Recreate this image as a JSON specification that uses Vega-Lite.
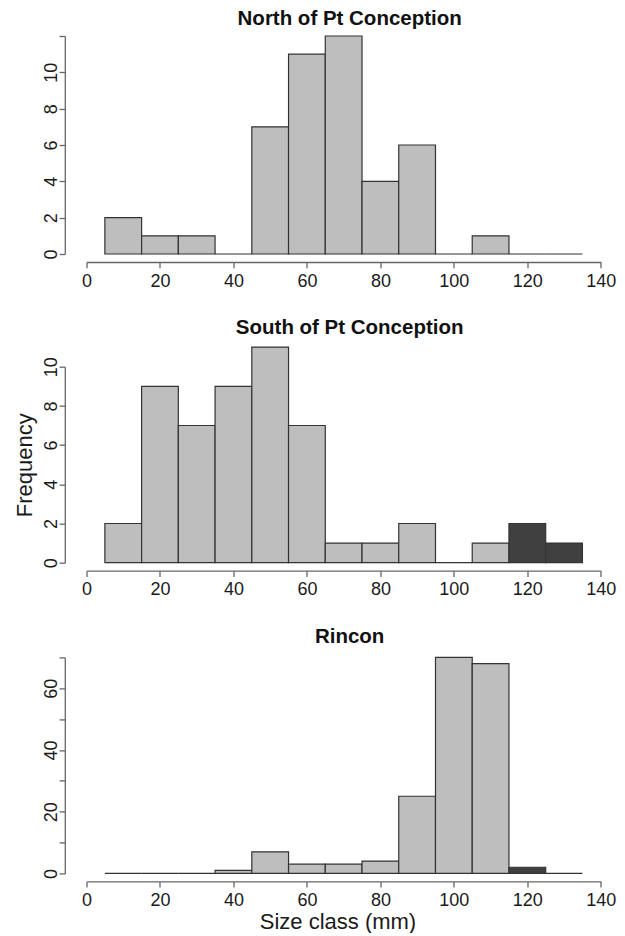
{
  "$schema": "https://vega.github.io/schema/vega-lite/v6.json",
  "background": "white",
  "padding": {"left": 12.5, "top": 9, "right": 0, "bottom": 0},
  "spacing": 26.7,
  "datasets": {
    "north": [
      {"lo": 5, "hi": 15, "n": 2, "shade": "light"},
      {"lo": 15, "hi": 25, "n": 1, "shade": "light"},
      {"lo": 25, "hi": 35, "n": 1, "shade": "light"},
      {"lo": 35, "hi": 45, "n": 0, "shade": "light"},
      {"lo": 45, "hi": 55, "n": 7, "shade": "light"},
      {"lo": 55, "hi": 65, "n": 11, "shade": "light"},
      {"lo": 65, "hi": 75, "n": 12, "shade": "light"},
      {"lo": 75, "hi": 85, "n": 4, "shade": "light"},
      {"lo": 85, "hi": 95, "n": 6, "shade": "light"},
      {"lo": 95, "hi": 105, "n": 0, "shade": "light"},
      {"lo": 105, "hi": 115, "n": 1, "shade": "light"},
      {"lo": 115, "hi": 125, "n": 0, "shade": "light"},
      {"lo": 125, "hi": 135, "n": 0, "shade": "light"}
    ],
    "south": [
      {"lo": 5, "hi": 15, "n": 2, "shade": "light"},
      {"lo": 15, "hi": 25, "n": 9, "shade": "light"},
      {"lo": 25, "hi": 35, "n": 7, "shade": "light"},
      {"lo": 35, "hi": 45, "n": 9, "shade": "light"},
      {"lo": 45, "hi": 55, "n": 11, "shade": "light"},
      {"lo": 55, "hi": 65, "n": 7, "shade": "light"},
      {"lo": 65, "hi": 75, "n": 1, "shade": "light"},
      {"lo": 75, "hi": 85, "n": 1, "shade": "light"},
      {"lo": 85, "hi": 95, "n": 2, "shade": "light"},
      {"lo": 95, "hi": 105, "n": 0, "shade": "light"},
      {"lo": 105, "hi": 115, "n": 1, "shade": "light"},
      {"lo": 115, "hi": 125, "n": 2, "shade": "dark"},
      {"lo": 125, "hi": 135, "n": 1, "shade": "dark"}
    ],
    "rincon": [
      {"lo": 5, "hi": 15, "n": 0, "shade": "light"},
      {"lo": 15, "hi": 25, "n": 0, "shade": "light"},
      {"lo": 25, "hi": 35, "n": 0, "shade": "light"},
      {"lo": 35, "hi": 45, "n": 1, "shade": "light"},
      {"lo": 45, "hi": 55, "n": 7, "shade": "light"},
      {"lo": 55, "hi": 65, "n": 3, "shade": "light"},
      {"lo": 65, "hi": 75, "n": 3, "shade": "light"},
      {"lo": 75, "hi": 85, "n": 4, "shade": "light"},
      {"lo": 85, "hi": 95, "n": 25, "shade": "light"},
      {"lo": 95, "hi": 105, "n": 70, "shade": "light"},
      {"lo": 105, "hi": 115, "n": 68, "shade": "light"},
      {"lo": 115, "hi": 125, "n": 2, "shade": "dark"},
      {"lo": 125, "hi": 135, "n": 0, "shade": "light"}
    ]
  },
  "config": {
    "view": {"stroke": null},
    "title": {"font": "Liberation Sans", "fontSize": 20.5, "fontWeight": "bold", "color": "#111111", "anchor": "middle", "frame": "group", "dx": 6},
    "axis": {
      "grid": false,
      "labelFont": "Liberation Sans",
      "titleFont": "Liberation Sans",
      "labelFontSize": 18,
      "titleFontSize": 22,
      "titleFontWeight": "normal",
      "labelColor": "#1a1a1a",
      "titleColor": "#1a1a1a",
      "domainColor": "#666666",
      "tickColor": "#666666",
      "domainWidth": 1.3,
      "tickWidth": 1.3,
      "tickSize": 5.7,
      "labelFlush": false,
      "labelOverlap": false
    },
    "axisX": {"offset": 8, "labelPadding": 4.5},
    "axisY": {"offset": 21.7, "labelAngle": -90, "labelAlign": "center", "labelBaseline": "alphabetic", "labelPadding": 3}
  },
  "vconcat": [
    {
      "width": 514.3,
      "height": 218,
      "title": {"text": "North of Pt Conception", "offset": 5.7},
      "data": {"name": "north"},
      "mark": {"type": "rect", "stroke": "#333333", "strokeWidth": 1.2},
      "encoding": {
        "x": {"field": "lo", "type": "quantitative", "scale": {"domain": [0, 140], "nice": false, "zero": false}, "axis": {"title": null, "values": [0, 20, 40, 60, 80, 100, 120, 140]}},
        "x2": {"field": "hi"},
        "y": {"field": "n", "type": "quantitative", "scale": {"domain": [0, 12], "nice": false}, "axis": {"title": null, "values": [0, 2, 4, 6, 8, 10, 12], "labelExpr": "datum.value == 12 ? '' : datum.label"}},
        "y2": {"datum": 0},
        "fill": {"field": "shade", "type": "nominal", "scale": {"domain": ["light", "dark"], "range": ["#bebebe", "#404040"]}, "legend": null}
      }
    },
    {
      "width": 514.3,
      "height": 196,
      "title": {"text": "South of Pt Conception", "offset": 8},
      "data": {"name": "south"},
      "mark": {"type": "rect", "stroke": "#333333", "strokeWidth": 1.2},
      "encoding": {
        "x": {"field": "lo", "type": "quantitative", "scale": {"domain": [0, 140], "nice": false, "zero": false}, "axis": {"title": null, "values": [0, 20, 40, 60, 80, 100, 120, 140]}},
        "x2": {"field": "hi"},
        "y": {"field": "n", "type": "quantitative", "scale": {"domain": [0, 10], "nice": false}, "axis": {"title": "Frequency", "titlePadding": 5.7, "values": [0, 2, 4, 6, 8, 10]}},
        "y2": {"datum": 0},
        "fill": {"field": "shade", "type": "nominal", "scale": {"domain": ["light", "dark"], "range": ["#bebebe", "#404040"]}, "legend": null}
      }
    },
    {
      "width": 514.3,
      "height": 216,
      "title": {"text": "Rincon", "offset": 9.7},
      "data": {"name": "rincon"},
      "mark": {"type": "rect", "stroke": "#333333", "strokeWidth": 1.2},
      "encoding": {
        "x": {"field": "lo", "type": "quantitative", "scale": {"domain": [0, 140], "nice": false, "zero": false}, "axis": {"title": "Size class (mm)", "titlePadding": 2, "titleX": 251, "values": [0, 20, 40, 60, 80, 100, 120, 140]}},
        "x2": {"field": "hi"},
        "y": {"field": "n", "type": "quantitative", "scale": {"domain": [0, 70], "nice": false}, "axis": {"title": null, "values": [0, 10, 20, 30, 40, 50, 60, 70], "labelExpr": "datum.value % 20 == 0 && datum.value < 70 ? datum.label : ''"}},
        "y2": {"datum": 0},
        "fill": {"field": "shade", "type": "nominal", "scale": {"domain": ["light", "dark"], "range": ["#bebebe", "#404040"]}, "legend": null}
      }
    }
  ]
}
